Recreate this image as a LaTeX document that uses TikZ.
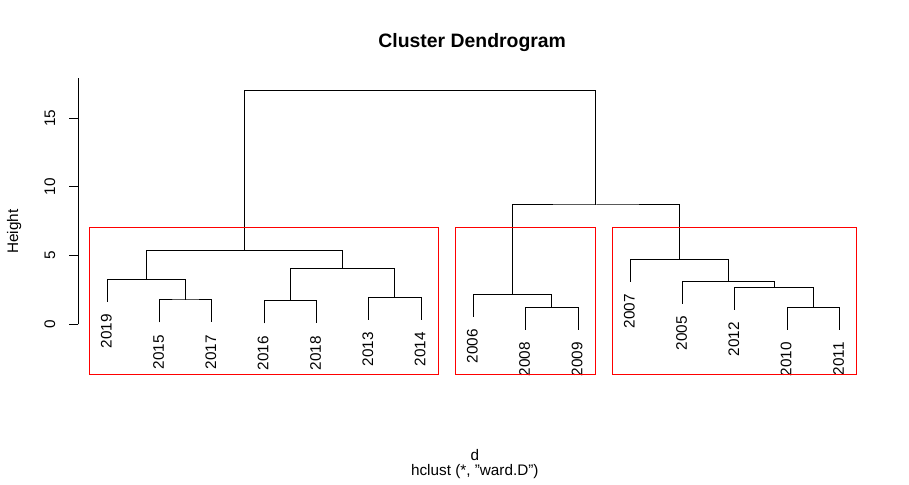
\documentclass[tikz,border=0pt]{standalone}
\usepackage{fontspec}
\setmainfont{Liberation Sans}
\usetikzlibrary{positioning}
\tikzset{
  branch/.style={line width=1pt},
  cutbox/.style={draw=red,line width=1pt},
  leaflabel/.style={rotate=90,anchor=east,inner sep=0pt},
  ticklabel/.style={rotate=90,anchor=base,inner sep=0pt},
  every node/.style={font=\fontsize{15.3}{18}\selectfont}
}

\begin{document}
\begin{tikzpicture}[x=1pt,y=1pt]
  \useasboundingbox (0,0) rectangle (909,484);

  % --- Title and axis labels ---
  \node[anchor=base,inner sep=0pt,font=\fontsize{19.4}{23}\selectfont\bfseries]
    (title) at (472.2,436.7) {Cluster Dendrogram};
  \node[anchor=base,inner sep=0pt] (xlab) at (474.8,23.3) {d};
  \node[below=3.5pt of xlab,inner sep=0pt] (method) {hclust (*, "ward.D")};
  \node[ticklabel] (ylab) at (18,252.3) {Height};

  % --- Height axis ---
  \begin{scope}[shift={(0,159.7)},y=13.73pt]
    \coordinate (ybot) at (78.3,0);
    \coordinate (ytop) at (78.3,17.92);
    \draw[branch] (ybot) -- (ytop);
    \foreach \v in {0,5,10,15} {
      \coordinate (tick\v) at (78.3,\v);
      \draw[branch] (tick\v) -- ++(-9.3,0);
      \node[ticklabel] (val\v) at (55,\v) {\v};
    }
  \end{scope}

  % --- Dendrogram ---
  \begin{scope}[shift={(55,159.7)},x=52.3pt,y=13.73pt]
    \foreach \yr/\i/\h in {2019/1/3.28, 2015/2/1.77, 2017/3/1.77, 2016/4/1.70,
        2018/5/1.70, 2013/6/1.97, 2014/7/1.97, 2006/8/2.18, 2008/9/1.24,
        2009/10/1.24, 2007/11/4.73, 2005/12/3.13, 2012/13/2.69, 2010/14/1.24,
        2011/15/1.24} {
      \coordinate (l\yr) at (\i,{\h-1.63});
      \node[leaflabel] (t\yr) at ([xshift=-1pt,yshift=-12.5pt]l\yr) {\yr};
    }
    \coordinate (m1517) at (2.5,1.77);
    \coordinate (m19) at (1.75,3.28);
    \coordinate (m1618) at (4.5,1.70);
    \coordinate (m1314) at (6.5,1.97);
    \coordinate (m1614) at (5.5,4.08);
    \coordinate (mL) at (3.625,5.39);
    \coordinate (m0809) at (9.5,1.24);
    \coordinate (m06) at (8.75,2.18);
    \coordinate (m1011) at (14.5,1.24);
    \coordinate (m12) at (13.75,2.69);
    \coordinate (m05) at (12.875,3.13);
    \coordinate (m07) at (11.9375,4.73);
    \coordinate (mR) at (10.34375,8.69);
    \coordinate (mTop) at (6.984,17.04);
    \foreach \a/\m/\b in {l2015/m1517/l2017, l2019/m19/m1517, l2016/m1618/l2018,
        l2013/m1314/l2014, m1618/m1614/m1314, m19/mL/m1614, l2008/m0809/l2009,
        l2006/m06/m0809, l2010/m1011/l2011, l2012/m12/m1011, l2005/m05/m12,
        l2007/m07/m05, m06/mR/m07, mL/mTop/mR}
      \draw[branch] (\a) |- (\m) -| (\b);

    % --- Clusters cut at k = 3 ---
    \draw[cutbox] (0.66,-3.62) rectangle (7.33,7.04);
    \draw[cutbox] (7.66,-3.62) rectangle (10.33,7.04);
    \draw[cutbox] (10.66,-3.62) rectangle (15.33,7.04);
  \end{scope}
\end{tikzpicture}
\end{document}
